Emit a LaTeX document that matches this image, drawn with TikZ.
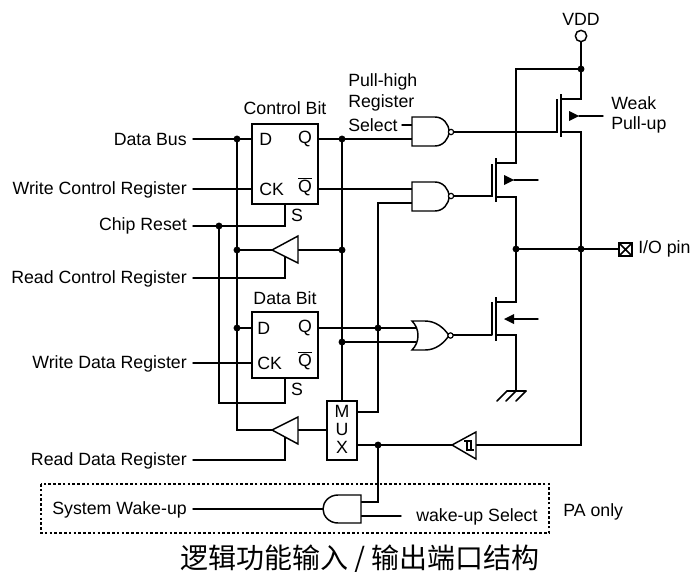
\documentclass[tikz,border=0pt]{standalone}
\usepackage{fontspec}
\setmainfont{Liberation Sans}
\newfontfamily\cjk{Noto Sans CJK SC}
\tikzset{
  x=0.75pt,y=-0.75pt,
  wire/.style={line width=1.1pt,line cap=round,line join=miter},
  jdot/.style={circle,fill=black,inner sep=0pt,minimum size=5.2pt},
  lbl/.style={font=\fontsize{13.3pt}{15pt}\selectfont,inner sep=0pt},
  lr/.style={lbl,anchor=east},
  ll/.style={lbl,anchor=west},
  lc/.style={lbl,anchor=center},
  gate/.style={line width=1.1pt,fill=white},
  bubble/.style={circle,draw,line width=0.9pt,fill=white,inner sep=0pt,minimum size=4pt},
  arrowfill/.style={fill=black,draw=none},
  dotbox/.style={line width=1pt,dash pattern=on 2pt off 1.6pt},
}
\begin{document}
\begin{tikzpicture}
\useasboundingbox (0,0) rectangle (691,571);
\fill[white] (0,0) rectangle (691,571);
% coordinates
\coordinate (j1) at (581,69);
\coordinate (j2) at (581,249);
\coordinate (j3) at (516,249);
\coordinate (dq1) at (342,139);
\coordinate (dd1) at (237,139);
\coordinate (dd2) at (237,250);
\coordinate (dd3) at (237,328);
\coordinate (dq2) at (342,250);
\coordinate (dr) at (219,226);
\coordinate (dq3) at (342,342);
\coordinate (dq4) at (378,328);
\coordinate (dm) at (378,445);
% wires
\draw[wire] (193,139) -- (252,139);
\draw[wire] (193,189) -- (252,189);
\draw[wire] (318,139) -- (414,139);
\draw[wire] (318,189) -- (414,189);
\draw[wire] (285,204) -- (285,226) -- (193,226);
\draw[wire] (193,278) -- (285,278) -- (285,256);
\draw[wire] (219,226) -- (219,403) -- (285,403) -- (285,378);
\draw[wire] (237,139) -- (237,430) -- (272,430);
\draw[wire] (237,250) -- (342,250);
\draw[wire] (342,139) -- (342,401);
\draw[wire] (193,363) -- (252,363);
\draw[wire] (237,328) -- (252,328);
\draw[wire] (318,328) -- (416,328);
\draw[wire] (342,342) -- (416,342);
\draw[wire] (414,203) -- (378,203) -- (378,412) -- (357,412);
\draw[wire] (298,430) -- (327,430);
\draw[wire] (193,460) -- (285,460) -- (285,437);
\draw[wire] (357,445) -- (581,445) -- (581,132) -- (561,132);
\draw[wire] (378,445) -- (378,502) -- (361,502);
\draw[wire] (361,516) -- (401,516);
\draw[wire] (193,509) -- (323,509);
\draw[wire] (402,125) -- (412,125);
\draw[wire] (453,132) -- (557,132);
\draw[wire] (453,196) -- (492,196);
\draw[wire] (581,42) -- (581,99) -- (561,99);
\draw[wire] (581,69) -- (516,69) -- (516,163) -- (496,163);
\draw[wire] (496,197) -- (516,197) -- (516,302) -- (496,302);
\draw[wire] (516,249) -- (618,249);
\draw[wire] (496,335) -- (516,335) -- (516,391);
\draw[wire] (453,335) -- (492,335);
% transistors
\draw[wire,line cap=butt] (557,99) -- (557,133) (561,94) -- (561,137);
\draw[wire] (579,116) -- (603,116);
\fill[arrowfill] (569,111) -- (579,116) -- (569,121) -- cycle;
\draw[wire,line cap=butt] (492,164) -- (492,197) (496,158) -- (496,202);
\draw[wire] (514,180) -- (538,180);
\fill[arrowfill] (504,175) -- (514,180) -- (504,185) -- cycle;
\draw[wire,line cap=butt] (492,302) -- (492,335) (496,297) -- (496,341);
\draw[wire] (514,319) -- (538,319);
\fill[arrowfill] (514,314) -- (504,319) -- (514,324) -- cycle;
% ground
\draw[wire] (507,391) -- (526,391);
\draw[wire] (507,391) -- (497,401) (516,391) -- (506,401) (526,391) -- (516,401);
% gates
\draw[gate] (412,117) -- (435,117) .. controls (443,117) and (449,124) .. (449,131.5) .. controls (449,139) and (443,146) .. (435,146) -- (412,146) -- cycle;
\draw[gate] (412,182) -- (435,182) .. controls (443,182) and (449,189) .. (449,196.5) .. controls (449,204) and (443,211) .. (435,211) -- (412,211) -- cycle;
\node[bubble] (b1) at (451,132) {};
\node[bubble] (b2) at (451,196) {};
\draw[gate] (412,321) .. controls (420,329) and (420,342) .. (412,350) -- (425,350) .. controls (436,350) and (444,343) .. (449,335.5) .. controls (444,328) and (436,321) .. (425,321) -- cycle;
\node[bubble] (b3) at (450.5,335.5) {};
\draw[gate] (361,495) -- (338,495) .. controls (329,495) and (323,502) .. (323,509) .. controls (323,516) and (329,523) .. (338,523) -- (361,523) -- cycle;
% flip flops
\draw[gate] (252,124) rectangle (318,204);
\draw[gate] (252,312) rectangle (318,378);
\draw[gate] (327,401) rectangle (357,460);
% buffers
\draw[gate] (272,250) -- (298,236) -- (298,263) -- cycle;
\draw[gate] (272,430) -- (298,417) -- (298,444) -- cycle;
\draw[gate] (452,445) -- (476,432) -- (476,459) -- cycle;
\draw[line width=1pt] (464,441) -- (471,441) -- (471,450) -- (474,450) (467,441) -- (467,450) -- (471,450);
% vdd
\node[circle,draw,line width=1.1pt,fill=white,inner sep=0pt,minimum size=8.5pt] (vdd) at (581,36) {};
% pin
\draw[gate] (619,243) rectangle (632,256);
\draw[line width=1.1pt] (619,243) -- (632,256) (619,256) -- (632,243);
% dots
\foreach \p in {j1,j2,j3,dq1,dd1,dd2,dd3,dq2,dr,dq3,dq4,dm}{\node[jdot] at (\p) {};}
% dashed
\draw[dotbox] (41,484) rectangle (549,533);
% labels
\node[lc] (tvdd) at (581,19) {VDD};
\node[ll] (t1) at (348,82) {Pull-high};
\node[ll] (t2) at (348,103) {Register};
\node[ll] (t3) at (348,125) {Select};
\node[lc] (t4) at (285,108) {Control Bit};
\node[lc] (t5) at (285,298) {Data Bit};
\node[ll] (t6) at (611,103) {Weak};
\node[ll] (t7) at (611,125) {Pull-up};
\node[ll] (t8) at (638,249) {I/O pin};
\node[lr] at (187,139) {Data Bus};
\node[lr] at (187,190) {Write Control Register};
\node[lr] at (187,226) {Chip Reset};
\node[lr] at (187,279) {Read Control Register};
\node[lr] at (187,364) {Write Data Register};
\node[lr] at (187,461) {Read Data Register};
\node[lr] at (187,510) {System Wake-up};
\node[ll] at (416,517) {wake-up Select};
\node[ll] at (563,512) {PA only};
\node[ll] at (259,139) {D};
\node[ll] at (259,189) {CK};
\node[lc] at (305,139) {Q};
\node[lc] at (305,187) {$\overline{\mbox{Q}}$};
\node[lc] at (297,215) {S};
\node[ll] at (257,328) {D};
\node[ll] at (257,363) {CK};
\node[lc] at (305,328) {Q};
\node[lc] at (305,361) {$\overline{\mbox{Q}}$};
\node[lc] at (297,389) {S};
\node[lc] at (342,411) {M};
\node[lc] at (342,429) {U};
\node[lc] at (342,447) {X};
\node[lbl,font=\fontsize{21pt}{24pt}\cjk] at (360,559) {逻辑功能输入 / 输出端口结构};
\end{tikzpicture}
\end{document}
